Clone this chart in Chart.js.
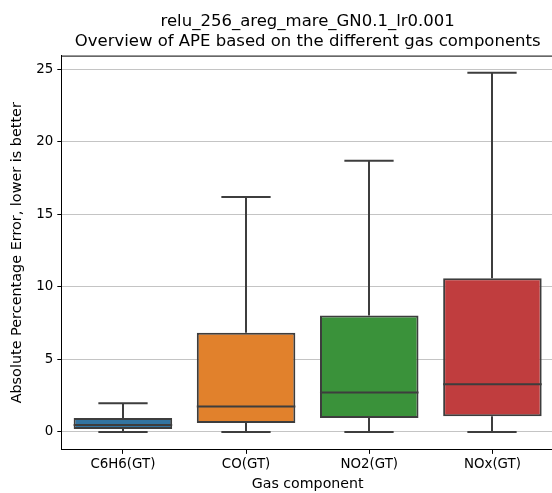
<!DOCTYPE html>
<html>
<head>
<meta charset="utf-8">
<script src="https://cdn.jsdelivr.net/npm/chart.js@4.4.1/dist/chart.umd.min.js"></script>
<style>
  html, body { margin: 0; padding: 0; overflow: hidden; background: #fff; }
  #wrap { width: 560px; height: 493px; }
</style>
</head>
<body>
<div id="wrap"><canvas id="boxChart" width="560" height="493"></canvas></div>
<script>
// Gas components and the box statistics
const components = ['C6H6(GT)', 'CO(GT)', 'NO2(GT)', 'NOx(GT)'];
const whiskerLow = [0.0, 0.0, 0.0, 0.0];
const q1Values = [0.2, 0.62, 0.95, 1.08];
const medians = [0.47, 1.75, 2.71, 3.29];
const q3Values = [0.96, 6.84, 8.03, 10.6];
const whiskerHigh = [1.98, 16.2, 18.7, 24.75];
const yTicks = [0, 5, 10, 15, 20, 25];

const boxColors = ['#3274a1', '#e1812c', '#3a923a', '#c03d3e'];
const edgeColor = '#3d3d3d';
const font = 'DejaVu Sans';

// whiskers, caps and medians drawn with the chart's own scales
const whiskerPlugin = {
    id: 'whiskers',
    afterDatasetsDraw(chart) {
        const ctx = chart.ctx;
        const y = chart.scales.y;
        const meta = chart.getDatasetMeta(0);
        ctx.save();
        ctx.strokeStyle = edgeColor;
        ctx.lineWidth = 2;
        meta.data.forEach((bar, i) => {
            const cx = Math.round(bar.x);
            const halfBox = bar.width / 2;
            const halfCap = bar.width / 4;
            const lines = [
                [cx, y.getPixelForValue(q1Values[i]), cx, y.getPixelForValue(whiskerLow[i])],
                [cx, y.getPixelForValue(q3Values[i]), cx, y.getPixelForValue(whiskerHigh[i])],
                [cx - halfCap, y.getPixelForValue(whiskerLow[i]), cx + halfCap, y.getPixelForValue(whiskerLow[i])],
                [cx - halfCap, y.getPixelForValue(whiskerHigh[i]), cx + halfCap, y.getPixelForValue(whiskerHigh[i])],
                [bar.x - halfBox, y.getPixelForValue(medians[i]), bar.x + halfBox, y.getPixelForValue(medians[i])]
            ];
            lines.forEach(l => {
                ctx.beginPath();
                ctx.moveTo(l[0], l[1]);
                ctx.lineTo(l[2], l[3]);
                ctx.stroke();
            });
        });
        ctx.restore();
    },
    afterDraw(chart) {
        // top and right spines, like matplotlib
        const a = chart.chartArea;
        const ctx = chart.ctx;
        ctx.save();
        ctx.strokeStyle = '#000';
        ctx.lineWidth = 1;
        ctx.beginPath();
        ctx.moveTo(a.left, a.top + 0.5);
        ctx.lineTo(a.right, a.top + 0.5);
        ctx.moveTo(a.right - 0.5, a.top);
        ctx.lineTo(a.right - 0.5, a.bottom);
        ctx.stroke();
        ctx.restore();
    }
};

document.addEventListener('DOMContentLoaded', function() {
    const ctx = document.getElementById('boxChart').getContext('2d');

    new Chart(ctx, {
        type: 'bar',
        data: {
            labels: components,
            datasets: [{
                data: components.map((c, i) => [q1Values[i], q3Values[i]]),
                backgroundColor: boxColors,
                borderColor: edgeColor,
                borderWidth: 2,
                borderSkipped: false,
                categoryPercentage: 1.0,
                barPercentage: 0.8
            }]
        },
        options: {
            responsive: false,
            animation: false,
            layout: {
                padding: { top: 10, right: 6, bottom: 0, left: 9 }
            },
            plugins: {
                legend: { display: false },
                tooltip: { enabled: false },
                title: {
                    display: true,
                    fullSize: false,
                    text: ['relu_256_areg_mare_GN0.1_lr0.001', 'Overview of APE based on the different gas components'],
                    color: '#000',
                    font: { family: font, size: 16.5, weight: 'normal' },
                    lineHeight: 1.17,
                    padding: { top: 2, bottom: 4 }
                }
            },
            scales: {
                x: {
                    grid: {
                        offset: false,
                        drawOnChartArea: false,
                        drawTicks: true,
                        tickLength: 4,
                        tickColor: '#000'
                    },
                    border: { color: '#000', width: 1 },
                    ticks: {
                        color: '#000',
                        padding: 3,
                        font: { family: font, size: 13.4 }
                    },
                    title: {
                        display: true,
                        text: 'Gas component',
                        color: '#000',
                        font: { family: font, size: 14.2 },
                        padding: { top: 0, bottom: 0 }
                    }
                },
                y: {
                    min: -1.24,
                    max: 25.94,
                    z: 1,
                    afterBuildTicks: function(axis) {
                        axis.ticks = yTicks.map(v => ({ value: v }));
                    },
                    grid: {
                        color: '#c4c4c4',
                        lineWidth: 1,
                        drawTicks: true,
                        tickLength: 4,
                        tickColor: '#000'
                    },
                    border: { color: '#000', width: 1 },
                    ticks: {
                        color: '#000',
                        padding: 4,
                        font: { family: font, size: 13.4 }
                    },
                    title: {
                        display: true,
                        text: 'Absolute Percentage Error, lower is better',
                        color: '#000',
                        font: { family: font, size: 14.4 },
                        padding: { top: 0, bottom: 6 }
                    }
                }
            }
        },
        plugins: [whiskerPlugin]
    });
});
</script>
</body>
</html>
